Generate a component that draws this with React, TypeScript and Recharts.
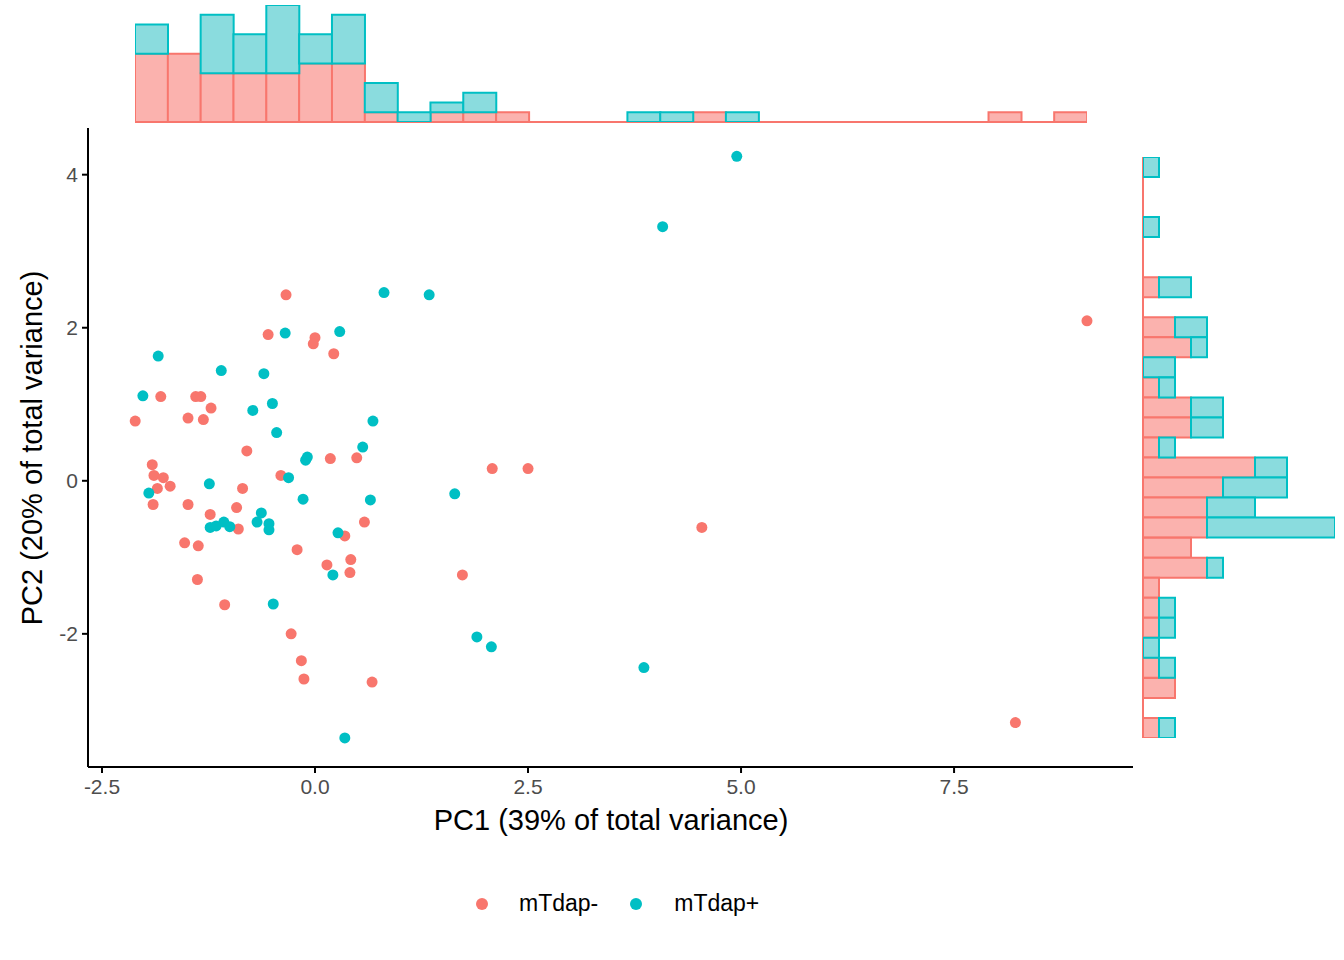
import React from "react"
import {
  ScatterChart, Scatter, XAxis, YAxis, BarChart, Bar,
} from "recharts"

const RED = "#F8766D"
const TEAL = "#00BFC4"
const RED_FILL = "#FBB2AE"
const TEAL_FILL = "#8ADCDE"

// PC1 / PC2 scores
const negX = [-2.11, -1.81, -1.91, -1.89, -1.78, -1.85, -1.70, -1.90, -1.49, -1.40, -1.34, -1.31, -1.22, -1.49, -1.23, -1.53, -1.37, -1.38, -1.06, -0.90, -0.92, -0.85, -0.80, -0.55, -0.34, -0.40, -0.21, -0.28, -0.16, -0.13, 0.0, -0.02, 0.22, 0.18, 0.49, 0.14, 0.35, 0.42, 0.41, 0.58, 0.67, 1.73, 2.08, 2.50, 4.54, 8.22, 9.06]
const negY = [0.78, 1.10, 0.21, 0.07, 0.04, -0.10, -0.07, -0.31, 0.82, 1.10, 1.10, 0.80, 0.95, -0.31, -0.44, -0.81, -0.85, -1.29, -1.62, -0.63, -0.35, -0.10, 0.39, 1.91, 2.43, 0.07, -0.90, -2.0, -2.35, -2.59, 1.87, 1.79, 1.66, 0.29, 0.30, -1.10, -0.72, -1.03, -1.20, -0.54, -2.63, -1.23, 0.16, 0.16, -0.61, -3.16, 2.09]
const posX = [-2.02, -1.84, -1.95, -1.10, -1.24, -1.23, -1.16, -1.07, -1.00, -0.73, -0.60, -0.50, -0.45, -0.68, -0.63, -0.54, -0.54, -0.49, -0.35, -0.31, -0.11, -0.09, -0.14, 0.29, 0.56, 0.68, 0.65, 0.27, 0.21, 0.35, 0.81, 1.34, 1.64, 1.90, 2.07, 3.86, 4.08, 4.95]
const posY = [1.11, 1.63, -0.16, 1.44, -0.04, -0.61, -0.59, -0.54, -0.60, 0.92, 1.40, 1.01, 0.63, -0.54, -0.42, -0.56, -0.64, -1.61, 1.93, 0.04, 0.27, 0.31, -0.24, 1.95, 0.44, 0.78, -0.25, -0.68, -1.23, -3.36, 2.46, 2.43, -0.17, -2.04, -2.17, -2.44, 3.32, 4.24]

// marginal histogram counts (stacked: mTdap- bottom, mTdap+ on top)
const topNeg = [7, 7, 5, 5, 5, 6, 6, 1, 0, 1, 1, 1, 0, 0, 0, 0, 0, 1, 0, 0, 0, 0, 0, 0, 0, 0, 1, 0, 1]
const topPos = [3, 0, 6, 4, 7, 3, 5, 3, 1, 1, 2, 0, 0, 0, 0, 1, 1, 0, 1, 0, 0, 0, 0, 0, 0, 0, 0, 0, 0]
// right histogram, top (high PC2) to bottom
const rightNeg = [0, 0, 0, 0, 0, 0, 1, 0, 2, 3, 0, 1, 3, 3, 1, 7, 5, 4, 4, 3, 4, 1, 1, 1, 0, 1, 2, 0, 1]
const rightPos = [1, 0, 0, 1, 0, 0, 2, 0, 2, 1, 2, 1, 2, 2, 1, 2, 4, 3, 8, 0, 1, 0, 1, 1, 1, 1, 0, 0, 1]

const xTicks = [-2.5, 0, 2.5, 5, 7.5]
const yTicks = [-2, 0, 2, 4]

const negData = negX.map((x, i) => ({ x, y: negY[i] }))
const posData = posX.map((x, i) => ({ x, y: posY[i] }))
const topData = topNeg.map((n, i) => ({ bin: i, neg: n, pos: topPos[i] }))
const rightData = rightNeg.map((n, i) => ({ bin: i, neg: n, pos: rightPos[i] }))

const FONT = "'Liberation Sans', Arial, sans-serif"
const tickStyle = { fill: "#4D4D4D", fontSize: 21, fontFamily: FONT }

const dot = (color: string) => (p: any) => <circle cx={p.cx} cy={p.cy} r={5.5} fill={color} />

export default function App() {
  return (
    <div style={{ position: "absolute", left: 0, top: 0, width: 1344, height: 960, background: "#fff", fontFamily: FONT }}>
      {/* main scatter */}
      <div style={{ position: "absolute", left: 0, top: 128 }}>
        <ScatterChart width={1133} height={690} margin={{ top: 0, right: 0, bottom: 0, left: 0 }}>
          <XAxis type="number" dataKey="x" domain={[-2.664, 9.6]} ticks={xTicks} height={51}
            tickFormatter={(v) => Number(v).toFixed(1)} tick={tickStyle} tickMargin={6}
            stroke="#000" strokeWidth={2} tickSize={6} allowDataOverflow />
          <YAxis type="number" dataKey="y" domain={[-3.74, 4.61]} ticks={yTicks} width={88}
            tick={tickStyle} stroke="#000" strokeWidth={2} tickSize={6} tickMargin={4} allowDataOverflow />
          <Scatter data={negData} fill={RED} shape={dot(RED)} isAnimationActive={false} />
          <Scatter data={posData} fill={TEAL} shape={dot(TEAL)} isAnimationActive={false} />
        </ScatterChart>
      </div>

      {/* top histogram */}
      <div style={{ position: "absolute", left: 135, top: 121, width: 952, height: 2, background: RED }} />
      <div style={{ position: "absolute", left: 135, top: 5 }}>
        <BarChart width={952} height={117} data={topData} barCategoryGap={0}
          margin={{ top: 0, right: 0, bottom: 0, left: 0 }}>
          <XAxis dataKey="bin" hide />
          <YAxis type="number" domain={[0, 12]} hide />
          <Bar dataKey="neg" stackId="a" fill={RED_FILL} stroke={RED} strokeWidth={2} isAnimationActive={false} />
          <Bar dataKey="pos" stackId="a" fill={TEAL_FILL} stroke={TEAL} strokeWidth={2} isAnimationActive={false} />
        </BarChart>
      </div>

      {/* right histogram */}
      <div style={{ position: "absolute", left: 1142, top: 157, width: 2, height: 581, background: RED }} />
      <div style={{ position: "absolute", left: 1143, top: 157 }}>
        <BarChart width={192} height={581} data={rightData} layout="vertical" barCategoryGap={0}
          margin={{ top: 0, right: 0, bottom: 0, left: 0 }}>
          <YAxis type="category" dataKey="bin" hide />
          <XAxis type="number" domain={[0, 12]} hide />
          <Bar dataKey="neg" stackId="a" fill={RED_FILL} stroke={RED} strokeWidth={2} isAnimationActive={false} />
          <Bar dataKey="pos" stackId="a" fill={TEAL_FILL} stroke={TEAL} strokeWidth={2} isAnimationActive={false} />
        </BarChart>
      </div>

      {/* axis titles */}
      <div style={{ position: "absolute", left: 0, width: 1222, top: 804, textAlign: "center", fontSize: 29, color: "#000" }}>
        PC1 (39% of total variance)
      </div>
      <div style={{ position: "absolute", left: 32, top: 448, transform: "translate(-50%, -50%) rotate(-90deg)", whiteSpace: "nowrap", fontSize: 29, color: "#000" }}>
        PC2 (20% of total variance)
      </div>

      {/* legend */}
      <div style={{ position: "absolute", top: 890, left: 476, display: "flex", alignItems: "center", fontSize: 23, color: "#000" }}>
        <span style={{ width: 12, height: 12, borderRadius: 6, background: RED, display: "inline-block" }} />
        <span style={{ marginLeft: 31 }}>mTdap-</span>
        <span style={{ marginLeft: 32, width: 12, height: 12, borderRadius: 6, background: TEAL, display: "inline-block" }} />
        <span style={{ marginLeft: 32 }}>mTdap+</span>
      </div>
    </div>
  )
}
